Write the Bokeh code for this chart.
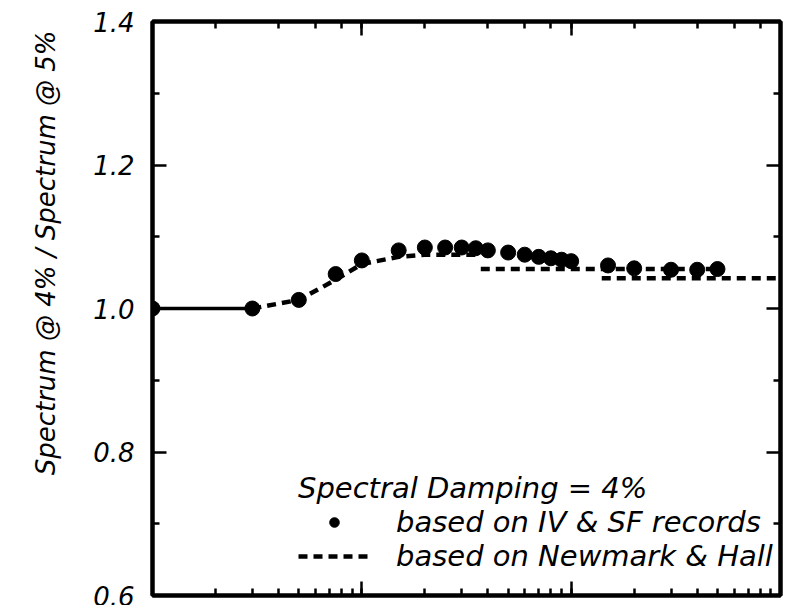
import math
from bokeh.plotting import figure
from bokeh.models import (LogAxis, LinearAxis, FixedTicker, LogTicker, Range1d, Title,
                          Legend, LegendItem, CustomJSTickFormatter, PrintfTickFormatter)
from bokeh.embed import file_html
from bokeh.resources import INLINE

nan = float("nan")

# ---- data (period in s, spectral ratio) ----
rec_period = [0.01, 0.03, 0.05, 0.075, 0.1, 0.15, 0.2, 0.25, 0.3, 0.35, 0.4, 0.5,
              0.6, 0.7, 0.8, 0.9, 1.0, 1.5, 2.0, 3.0, 4.0, 5.0]
rec_ratio = [1.0, 1.0, 1.012, 1.048, 1.067, 1.081, 1.085, 1.085, 1.085, 1.084, 1.081, 1.078,
             1.075, 1.072, 1.070, 1.068, 1.066, 1.060, 1.056, 1.054, 1.054, 1.055]

low_period = [0.01, 0.03]
low_ratio = [1.0, 1.0]

nh_period = [0.03, 0.05, 0.075, 0.1, 0.15, 0.2, 0.37, nan, 0.37, 5.0, nan, 1.4, 10.0]
nh_ratio = [1.0, 1.012, 1.04, 1.062, 1.072, 1.075, 1.075, nan, 1.055, 1.055, nan, 1.042, 1.042]

y_major = [0.6, 0.8, 1.0, 1.2, 1.4]
y_minor = [0.7, 0.9, 1.1, 1.3]

FONT = "DejaVu Sans"

p = figure(width=784, height=605, x_axis_type="log",
           x_range=Range1d(0.01, 10), y_range=Range1d(0.6, 1.4),
           output_backend="svg", toolbar_location=None,
           min_border_left=152, min_border_right=4, min_border_top=21, min_border_bottom=10)
p.grid.visible = False
p.outline_line_color = "black"
p.outline_line_width = 4
p.background_fill_color = "white"
p.border_fill_color = "white"

empty = CustomJSTickFormatter(code="return ''")
p.yaxis.ticker = FixedTicker(ticks=y_major, minor_ticks=y_minor)
p.yaxis.formatter = PrintfTickFormatter(format="%.1f")
p.xaxis.formatter = empty

top = LogAxis(ticker=LogTicker(), formatter=empty)
right = LinearAxis(ticker=FixedTicker(ticks=y_major, minor_ticks=y_minor), formatter=empty)
p.add_layout(top, "above")
p.add_layout(right, "right")

for ax in p.xaxis + p.yaxis + [top, right]:
    ax.major_tick_in = 14
    ax.major_tick_out = 0
    ax.minor_tick_in = 7
    ax.minor_tick_out = 0
    ax.major_tick_line_width = 2.5
    ax.minor_tick_line_width = 2.5
    ax.major_tick_line_color = "black"
    ax.minor_tick_line_color = "black"
    ax.axis_line_width = 4
    ax.axis_line_color = "black"
    ax.major_label_standoff = 0

ya = p.yaxis[0]
ya.major_label_standoff = 18
ya.major_label_text_font = FONT
ya.major_label_text_font_style = "italic"
ya.major_label_text_font_size = "26px"
ya.major_label_text_color = "black"

ytitle = Title(text="Spectrum @ 4% / Spectrum @ 5%", align="right", offset=9,
               standoff=56, vertical_align="top", text_font=FONT, text_font_style="italic",
               text_font_size="26px", text_color="black")
p.add_layout(ytitle, "left")

p.line(low_period, low_ratio, line_color="black", line_width=3.5)
nh = p.line(nh_period, nh_ratio, line_color="black", line_width=4.5, line_dash="9 6")
pts = p.scatter(rec_period, rec_ratio, size=15, marker="circle",
                fill_color="black", line_color="black")

legend = Legend(items=[LegendItem(label="based on IV & SF records", renderers=[pts]),
                       LegendItem(label="based on Newmark & Hall", renderers=[nh])],
                title="Spectral Damping = 4%", location=(146, 22))
legend.background_fill_alpha = 0
legend.border_line_color = None
legend.padding = 0
legend.margin = 0
legend.spacing = 0
legend.glyph_width = 72
legend.glyph_height = 24
legend.label_standoff = 26
legend.label_text_font = FONT
legend.label_text_font_style = "italic"
legend.label_text_font_size = "29px"
legend.label_text_color = "black"
legend.title_text_font = FONT
legend.title_text_font_style = "italic"
legend.title_text_font_size = "29px"
legend.title_text_color = "black"
legend.title_standoff = 0
p.add_layout(legend)

open("out.html", "w").write(file_html(p, INLINE))
